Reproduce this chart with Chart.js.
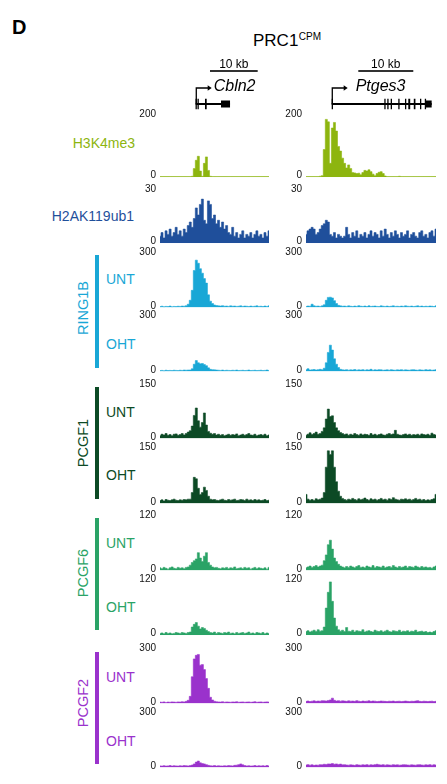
<!DOCTYPE html>
<html>
<head>
<meta charset="utf-8">
<script src="https://cdn.jsdelivr.net/npm/chart.js@4/dist/chart.umd.min.js"></script>
<style>
  body { margin: 0; width: 447px; height: 784px; position: relative; background: #fff; overflow: hidden;
         font-family: Arial, "Liberation Sans", Helvetica, sans-serif; }
  canvas { position: absolute; }
  .t { position: absolute; white-space: nowrap; line-height: 1; transform: translateY(-50%); }
  .rot { position: absolute; white-space: nowrap; line-height: 1; transform: translate(-50%, -50%) rotate(-90deg); }
  .barra { position: absolute; width: 4px; }
</style>
</head>
<body>
<script>
// ---- Datos: señal por bin (CPM), locus Cbln2 (55 bins) ----
const cbln2H3K4me3 = [2,2,2,2,2,2,2,2,2,2, 2,2,2,2,2,2,3,28,55,68, 20,3,45,66,22,3,2,2,2,2, 2,2,2,2,2,2,2,2,2,2, 2,2,2,2,2,2,2,2,2,2, 2,2,2,2,2];
const cbln2H2AK119ub1 = [4,6,3,7,5,8,4,6,9,5, 7,4,8,6,10,12,9,14,20,16, 22,25,13,11,24,22,14,16,11,13, 9,12,8,10,6,5,9,4,6,3, 5,7,3,5,4,6,3,5,7,4, 5,3,6,4,7];
const cbln2Ring1bUnt = [5,7,4,6,5,8,4,6,5,7, 6,8,7,10,18,40,95,205,262,245, 215,190,160,135,70,35,22,14,11,9, 8,10,7,8,6,9,7,8,6,7, 9,6,8,7,5,8,6,7,9,6, 7,5,8,6,9];
const cbln2Ring1bOht = [5,6,4,7,5,6,5,7,6,5, 7,6,8,7,8,8,15,40,60,48, 42,44,38,32,20,12,10,9,8,7, 6,8,5,7,6,5,7,6,8,5, 6,7,5,6,8,5,6,7,5,6, 7,5,6,8,6];
const cbln2Pcgf1Unt = [8,12,10,14,9,11,8,12,13,9, 11,14,10,14,18,22,35,65,86,50, 32,45,72,38,20,15,12,14,10,12, 9,11,8,10,12,9,11,10,13,8, 10,12,9,11,14,10,9,12,8,10, 11,9,12,8,10];
const cbln2Pcgf1Oht = [8,10,7,11,9,8,10,12,9,8, 10,9,11,10,12,12,30,72,68,42, 25,30,45,36,20,12,10,11,9,8, 10,12,9,8,11,9,10,12,8,9, 11,10,8,12,9,10,8,11,9,10, 8,9,11,8,9];
const cbln2Pcgf6Unt = [6,4,7,5,3,6,8,5,4,7, 5,6,4,7,8,12,18,22,26,40, 28,20,32,40,18,12,8,6,7,5, 4,6,5,7,4,6,5,8,4,5, 6,4,7,5,6,3,5,7,4,6, 5,4,6,3,7];
const cbln2Pcgf6Oht = [4,5,3,6,4,5,3,4,6,5, 4,6,5,4,6,7,18,24,28,20, 14,17,15,11,8,6,5,7,4,6, 5,4,6,5,7,4,5,3,6,4, 5,6,4,5,7,4,5,3,6,5, 4,6,3,5,4];
const cbln2Pcgf2Unt = [8,7,9,6,8,7,9,8,7,9, 8,10,9,12,18,40,150,250,270,275, 215,218,190,140,85,35,20,13,10,9, 8,10,7,9,8,7,9,8,10,7, 8,9,7,8,9,7,8,10,7,8, 9,7,8,9,8];
const cbln2Pcgf2Oht = [9,8,10,8,9,11,8,10,9,8, 10,9,11,10,9,11,14,20,30,36, 26,22,20,16,12,10,9,11,8,10, 9,8,10,9,11,10,9,12,13,16, 20,15,11,9,10,8,9,11,8,10, 9,10,8,11,9];

// ---- Datos: locus Ptges3 (65 bins) ----
const ptges3H3K4me3 = [2,2,2,2,2,2,2,3,5,90, 188,180,45,160,178,150,100,85,62,45, 30,40,28,15,14,12,13,8,15,22, 20,24,18,10,5,12,16,18,12,4, 2,2,2,2,2,2,3,2,2,2, 2,2,2,2,2,2,2,2,2,2, 2,2,2,2,2];
const ptges3H2AK119ub1 = [5,7,8,9,8,5,6,8,10,11, 13,12,5,4,6,3,5,4,3,4, 9,5,3,6,4,7,3,5,4,6, 3,5,7,4,6,5,3,7,4,8, 5,3,6,4,7,5,3,6,4,5, 7,3,5,6,4,3,6,7,4,5, 3,6,7,4,8];
const ptges3Ring1bUnt = [6,8,7,18,9,7,8,6,9,15, 40,56,57,53,38,22,12,9,7,8, 6,9,7,5,8,6,10,7,6,8, 5,9,6,7,8,6,5,9,7,6, 8,5,7,9,6,7,5,8,6,9, 7,6,8,5,7,9,6,8,5,7, 6,8,7,5,9];
const ptges3Ring1bOht = [10,15,8,9,11,8,10,12,9,18, 48,105,145,118,70,40,22,12,9,8, 10,7,9,8,11,7,9,8,10,7, 9,8,12,7,9,8,10,9,7,8, 9,7,10,8,7,9,8,10,7,9, 8,7,9,10,8,7,9,8,7,10, 8,9,7,8,10];
const ptges3Pcgf1Unt = [9,12,16,11,14,18,12,14,20,30, 55,83,62,64,45,30,22,17,14,11, 13,9,12,10,14,11,9,13,10,12, 11,9,14,10,12,9,11,13,10,9, 12,14,11,13,23,12,10,9,11,13, 10,12,9,11,10,12,9,13,11,10, 12,9,15,11,10];
const ptges3Pcgf1Oht = [25,12,9,11,8,13,10,12,15,30, 100,145,135,145,100,60,34,20,14,11, 9,12,10,14,11,9,13,10,12,15, 11,9,13,10,12,9,11,14,10,12, 9,13,11,16,12,10,9,12,11,13, 10,12,9,11,14,10,12,9,11,8, 10,9,11,13,25];
const ptges3Pcgf6Unt = [6,8,10,7,9,11,8,10,12,22, 35,58,68,48,28,20,14,10,8,6, 9,7,10,8,6,9,11,7,8,6, 10,8,7,11,6,9,8,7,10,6, 8,9,7,11,8,6,9,7,8,10, 6,9,8,7,10,8,6,9,7,8, 6,7,5,8,10];
const ptges3Pcgf6Oht = [8,10,7,9,11,8,12,9,10,18, 60,95,118,75,38,20,12,9,11,8, 17,9,8,11,7,10,9,8,12,7, 9,10,8,7,11,9,8,10,7,9, 11,8,7,10,9,8,11,7,9,8, 10,7,9,8,11,7,8,9,7,8, 6,7,6,8,10];
const ptges3Pcgf2Unt = [12,14,11,13,15,12,14,13,16,15, 14,17,20,30,18,14,16,13,15,14, 12,15,13,14,12,16,13,11,14,12, 13,15,12,14,13,11,12,14,13,12, 11,13,12,14,11,12,13,11,12,14, 12,11,13,12,14,16,12,11,13,12, 11,12,13,11,12];
const ptges3Pcgf2Oht = [14,16,13,15,12,14,13,16,15,18, 17,20,19,22,18,20,17,19,15,16, 14,13,15,14,12,16,14,13,15,14, 16,13,15,14,16,18,15,14,16,13, 15,14,13,16,14,15,13,14,16,15, 14,13,15,14,13,15,16,14,13,15, 14,16,13,15,14];

// Máximo del eje Y de cada pista
const pistas = ['H3K4me3','H2AK119ub1','RING1B UNT','RING1B OHT','PCGF1 UNT','PCGF1 OHT','PCGF6 UNT','PCGF6 OHT','PCGF2 UNT','PCGF2 OHT'];
const maximos = [200, 30, 300, 300, 150, 150, 120, 120, 300, 300];
const datosCbln2 = [cbln2H3K4me3, cbln2H2AK119ub1, cbln2Ring1bUnt, cbln2Ring1bOht, cbln2Pcgf1Unt, cbln2Pcgf1Oht, cbln2Pcgf6Unt, cbln2Pcgf6Oht, cbln2Pcgf2Unt, cbln2Pcgf2Oht];
const datosPtges3 = [ptges3H3K4me3, ptges3H2AK119ub1, ptges3Ring1bUnt, ptges3Ring1bOht, ptges3Pcgf1Unt, ptges3Pcgf1Oht, ptges3Pcgf6Unt, ptges3Pcgf6Oht, ptges3Pcgf2Unt, ptges3Pcgf2Oht];

// Modelos de gen (kb desde el borde izquierdo de la ventana)
const genes = ['Cbln2', 'Ptges3'];
const ventanaKb = [22.85, 23.64];
const barraEscalaKb = [[10.48, 20.48], [9.51, 19.51]];
const genInicioKb = [7.48, 4.67];
const genFinKb = [14.68, 22.85];
const exonesCbln2 = [[7.45, 7.62, 'cds'], [7.86, 8.02, 'cds'], [9.43, 9.79, 'cds'], [12.79, 14.68, 'utr']];
const exonesPtges3 = [[4.67, 4.9, 'cds'], [14.24, 14.44, 'cds'], [14.78, 14.98, 'cds'], [15.4, 15.6, 'cds'], [16.78, 16.98, 'cds'],
  [18.0, 18.2, 'cds'], [18.6, 18.95, 'cds'], [19.6, 19.9, 'cds'], [20.73, 20.93, 'cds'], [21.6, 21.8, 'cds'], [21.8, 22.85, 'utr']];

// ---- Diseño (píxeles) ----
const FUENTE = 'Arial, "Liberation Sans", Helvetica, sans-serif';
Chart.defaults.font.family = FUENTE;
const columnas = [
  { plotLeft: 160, plotW: 109, ejeW: 50, nombreDx: 2 },
  { plotLeft: 306, plotW: 130, ejeW: 34, nombreDx: 8 }
];
const topes = [114.7, 189.3, 252.3, 316, 384.3, 448, 516, 580, 649, 712.7];
const ceros = [174.7, 240.7, 305, 369, 436, 501, 568, 632.7, 701, 765];
const colorPista = ['#8db50f', '#1f4f9b', '#19a7d6', '#19a7d6', '#0c4a25', '#0c4a25', '#2aa366', '#2aa366', '#9a32cc', '#9a32cc'];

function texto(html, cls, estilo) {
  const d = document.createElement('div');
  d.className = cls;
  d.innerHTML = html;
  Object.assign(d.style, estilo);
  document.body.appendChild(d);
}

// Pista de señal
function crearPista(col, k, datos) {
  const C = columnas[col];
  const arriba = topes[k] + 1, abajo = ceros[k] + 2.5;
  const cTop = Math.floor(arriba) - 16;
  const alto = Math.ceil(abajo) + 16 - cTop;
  const canvas = document.createElement('canvas');
  canvas.width = C.ejeW + C.plotW;
  canvas.height = alto;
  canvas.style.left = (C.plotLeft - C.ejeW) + 'px';
  canvas.style.top = cTop + 'px';
  document.body.appendChild(canvas);
  const m = maximos[k];
  new Chart(canvas, {
    type: 'line',
    data: {
      labels: datos.map((_, i) => i),
      datasets: [{
        data: datos, fill: 'origin', stepped: 'middle',
        backgroundColor: colorPista[k], borderColor: colorPista[k],
        borderWidth: 0.6, pointRadius: 0
      }]
    },
    options: {
      responsive: false, animation: false, events: [],
      layout: { padding: { top: arriba - cTop, bottom: cTop + alto - abajo, left: 0, right: 0 } },
      plugins: { legend: { display: false }, tooltip: { enabled: false } },
      scales: {
        x: { display: false },
        y: {
          min: 0, max: m,
          afterBuildTicks: s => { s.ticks = [{ value: 0 }, { value: m }]; },
          afterFit: s => { s.width = C.ejeW; },
          grid: { display: false, drawTicks: false },
          border: { display: false },
          ticks: { padding: 4, labelOffset: -1.5, color: '#111', font: { size: 10 } }
        }
      }
    }
  });
}

// Plugin para dibujar el modelo de gen y la barra de escala
const pluginGen = {
  id: 'modeloGen',
  afterDraw(chart, args, o) {
    const ctx = chart.ctx;
    const px = v => chart.scales.x.getPixelForValue(v);
    const yLinea = 104;
    ctx.save();
    ctx.fillStyle = '#000';
    ctx.strokeStyle = '#000';
    // barra de escala
    const b0 = px(o.barra[0]), b1 = px(o.barra[1]);
    ctx.fillRect(b0, 70.2, b1 - b0, 1.6);
    ctx.font = '12px ' + FUENTE;
    ctx.textAlign = 'center';
    ctx.textBaseline = 'middle';
    ctx.fillText('10 kb', (b0 + b1) / 2, 64.8);
    // línea del gen
    const g0 = px(o.inicio), g1 = px(o.fin);
    ctx.fillRect(g0, yLinea - 1, g1 - g0, 2);
    // exones
    o.exones.forEach(([a, b, tipo]) => {
      const h = tipo === 'cds' ? 10.5 : 7;
      ctx.fillRect(px(a), yLinea - h / 2, Math.max(px(b) - px(a), 1.3), h);
    });
    // flecha del TSS
    const xf = g0 + 12.5;
    ctx.lineWidth = 1.3;
    ctx.beginPath();
    ctx.moveTo(g0 + 0.6, yLinea);
    ctx.lineTo(g0 + 0.6, 88);
    ctx.lineTo(xf, 88);
    ctx.stroke();
    ctx.beginPath();
    ctx.moveTo(xf - 0.5, 85.3);
    ctx.lineTo(xf + 3.5, 88);
    ctx.lineTo(xf - 0.5, 90.7);
    ctx.closePath();
    ctx.fill();
    // nombre del gen
    ctx.font = 'italic 16px ' + FUENTE;
    ctx.textAlign = 'left';
    ctx.fillText(o.nombre, xf + 3.5 + o.nombreDx, 87);
    ctx.restore();
  }
};

function crearGen(col) {
  const C = columnas[col];
  const canvas = document.createElement('canvas');
  canvas.width = C.plotW;
  canvas.height = 116;
  canvas.style.left = C.plotLeft + 'px';
  canvas.style.top = '0px';
  document.body.appendChild(canvas);
  new Chart(canvas, {
    type: 'scatter',
    data: { datasets: [] },
    plugins: [pluginGen],
    options: {
      responsive: false, animation: false, events: [],
      layout: { padding: 0 },
      plugins: {
        legend: { display: false }, tooltip: { enabled: false },
        modeloGen: {
          nombre: genes[col], barra: barraEscalaKb[col],
          inicio: genInicioKb[col], fin: genFinKb[col],
          exones: col === 0 ? exonesCbln2 : exonesPtges3,
          nombreDx: C.nombreDx
        }
      },
      scales: {
        x: { type: 'linear', min: 0, max: ventanaKb[col], display: false },
        y: { min: 0, max: 1, display: false }
      }
    }
  });
}

// ---- Textos ----
texto('D', 't', { left: '12px', top: '27px', fontSize: '20px', fontWeight: 'bold' });
texto('PRC1<span style="font-size:10px;position:relative;top:-6px;margin-left:0.5px">CPM</span>', 't',
  { left: '253px', top: '40px', fontSize: '17px' });
texto('H3K4me3', 't', { right: (447 - 135) + 'px', top: '143.3px', fontSize: '14px', color: colorPista[0] });
texto('H2AK119ub1', 't', { right: (447 - 134) + 'px', top: '216px', fontSize: '14px', color: colorPista[1] });

const grupos = [
  { nombre: 'RING1B', color: colorPista[2], y0: 255, y1: 368, yc: 308.3, yU: 279.3, yO: 343.7 },
  { nombre: 'PCGF1', color: colorPista[4], y0: 387.3, y1: 499.3, yc: 443.3, yU: 411.7, yO: 475 },
  { nombre: 'PCGF6', color: colorPista[6], y0: 518.3, y1: 630, yc: 573.3, yU: 543.3, yO: 607.3 },
  { nombre: 'PCGF2', color: colorPista[8], y0: 651.7, y1: 764.3, yc: 703.3, yU: 676.7, yO: 740.7 }
];
grupos.forEach(g => {
  const b = document.createElement('div');
  b.className = 'barra';
  Object.assign(b.style, { left: '95px', top: g.y0 + 'px', height: (g.y1 - g.y0) + 'px', background: g.color });
  document.body.appendChild(b);
  texto(g.nombre, 'rot', { left: '83.3px', top: g.yc + 'px', fontSize: '14.5px', color: g.color });
  texto('UNT', 't', { left: '106px', top: g.yU + 'px', fontSize: '14px', color: g.color });
  texto('OHT', 't', { left: '106px', top: g.yO + 'px', fontSize: '14px', color: g.color });
});

// ---- Gráficos ----
crearGen(0);
crearGen(1);
pistas.forEach((_, k) => {
  crearPista(0, k, datosCbln2[k]);
  crearPista(1, k, datosPtges3[k]);
});
</script>
</body>
</html>
